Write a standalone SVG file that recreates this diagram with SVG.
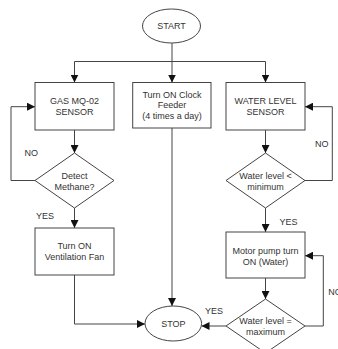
<svg xmlns="http://www.w3.org/2000/svg" width="338" height="349" viewBox="0 0 338 349">
<defs>
<marker id="ah" viewBox="0 0 10 10" refX="10" refY="5" markerWidth="8" markerHeight="8" markerUnits="userSpaceOnUse" orient="auto">
<path d="M0,0 L10,5 L0,10 z" fill="#111"/>
</marker>
<style>
.s{fill:#fff;stroke:#444;stroke-width:1}
.c{fill:none;stroke:#444;stroke-width:1;marker-end:url(#ah)}
.l{fill:none;stroke:#444;stroke-width:1}
text{font-family:"Liberation Sans",Arial,sans-serif;font-size:9px;fill:#333;text-anchor:middle}
.lb{text-anchor:start}
</style>
</defs>
<rect width="338" height="349" fill="#fff"/>
<g id="connectors">
<path class="l" d="M172,43 V61.5"/>
<path class="c" d="M172,61.5 V82.5"/>
<path class="c" d="M74.5,61.5 H265.5 V82.5"/>
<path class="c" d="M74.5,61.5 V82.5"/>
<path class="c" d="M74.5,130 V153"/>
<path class="c" d="M35,180.5 H11 V106.7 H35"/>
<path class="c" d="M74.5,208 V228"/>
<path class="c" d="M74.5,275 V324 H145"/>
<path class="c" d="M172,128 V306"/>
<path class="c" d="M265.5,130 V153"/>
<path class="c" d="M305,180.5 H332.3 V106.7 H305"/>
<path class="c" d="M265.5,208 V232"/>
<path class="c" d="M265.5,278 V299"/>
<path class="c" d="M305,326 H323.3 V255.7 H305"/>
<path class="c" d="M226,326 H201.5"/>
</g>
<g id="start"><ellipse class="s" cx="171.5" cy="26" rx="29" ry="17"/><text x="171.5" y="29.2">START</text></g>
<g id="gas"><rect class="s" x="35" y="82.5" width="79" height="47.5"/><text x="74.5" y="104">GAS MQ-02</text><text x="74.5" y="115">SENSOR</text></g>
<g id="feeder"><rect class="s" x="132.7" y="82.5" width="78.3" height="45.5"/><text x="172" y="98">Turn ON Clock</text><text x="172" y="108.3">Feeder</text><text x="172" y="118.6">(4 times a day)</text></g>
<g id="water"><rect class="s" x="226" y="82.5" width="79" height="47.5"/><text x="265.5" y="104">WATER LEVEL</text><text x="265.5" y="115">SENSOR</text></g>
<g id="detect"><path class="s" d="M74.5,153 L114,180.5 L74.5,208 L35,180.5 z"/><text x="74.5" y="179">Detect</text><text x="74.5" y="190">Methane?</text></g>
<g id="wmin"><path class="s" d="M265.5,153 L305,180.5 L265.5,208 L226,180.5 z"/><text x="265.5" y="179">Water level &lt;</text><text x="265.5" y="190">minimum</text></g>
<g id="fan"><rect class="s" x="35" y="228" width="79" height="47"/><text x="74.5" y="249">Turn ON</text><text x="74.5" y="260">Ventilation Fan</text></g>
<g id="pump"><rect class="s" x="226" y="232" width="79" height="46"/><text x="265.5" y="254">Motor pump turn</text><text x="265.5" y="264.5">ON (Water)</text></g>
<g id="wmax"><path class="s" d="M265.5,299 L305,326 L265.5,353 L226,326 z"/><text x="265.5" y="324">Water level =</text><text x="265.5" y="335">maximum</text></g>
<g id="stop"><ellipse class="s" cx="173.3" cy="323.5" rx="28.3" ry="17.5"/><text x="173.3" y="326.7">STOP</text></g>
<g id="labels">
<text class="lb" x="24.5" y="155.5">NO</text>
<text class="lb" x="36" y="219">YES</text>
<text class="lb" x="315" y="146.5">NO</text>
<text class="lb" x="279.5" y="225">YES</text>
<text class="lb" x="328.3" y="294.5">NO</text>
<text class="lb" x="205" y="313.5">YES</text>
</g>
</svg>
